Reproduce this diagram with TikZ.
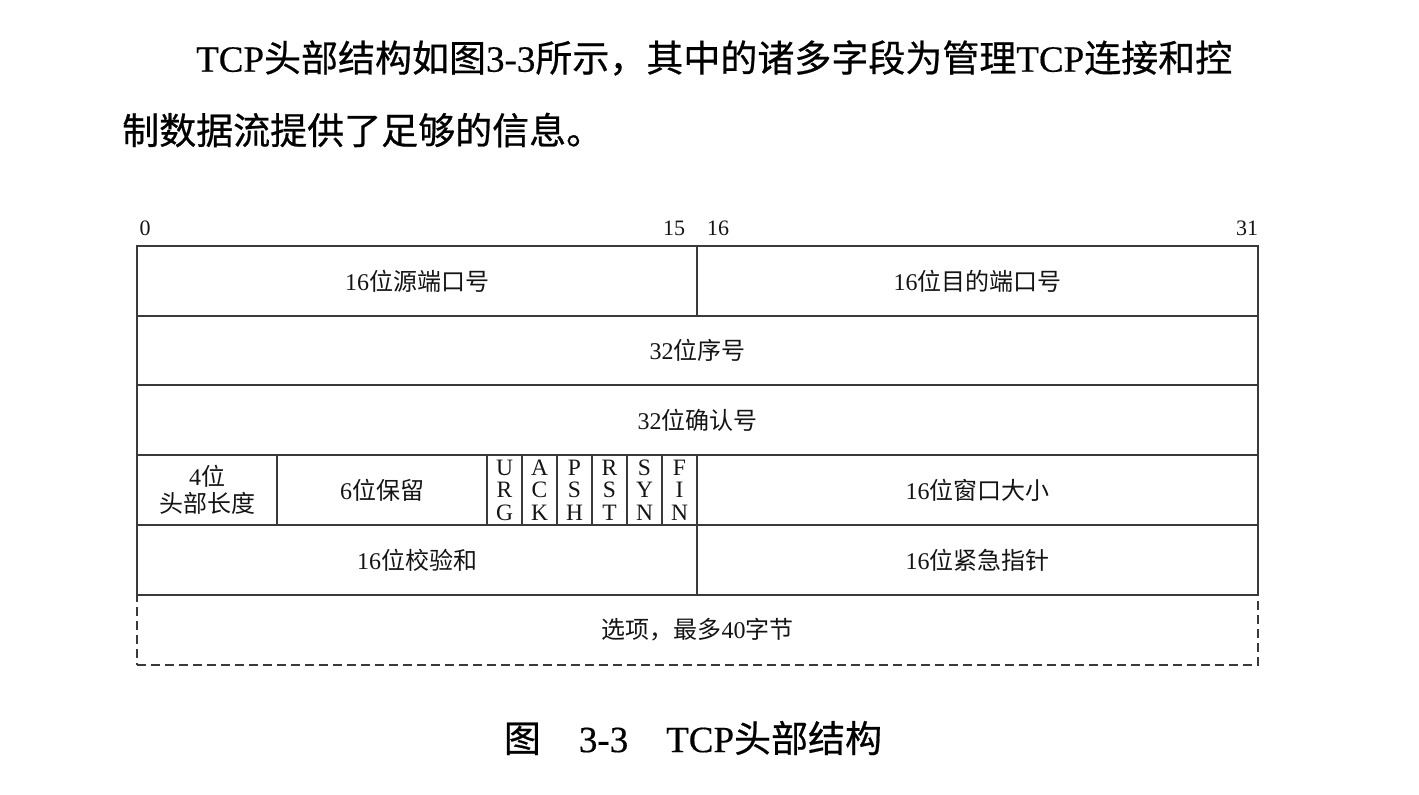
\documentclass[tikz,border=0pt]{standalone}
\usepackage{fontspec}
\setmainfont{Liberation Serif}
\newfontfamily\cjk{Noto Sans CJK SC}
\newfontfamily\cjkheavy{Noto Sans CJK SC}[FakeBold=0.6]
\newfontfamily\latinheavy{Liberation Serif}[FakeBold=0.4]
\usetikzlibrary{positioning}
\definecolor{tcpline}{HTML}{3A3A3A}
\definecolor{tcptext}{HTML}{141414}
\newcommand{\zh}[1]{{\cjk #1}}
\newcommand{\zhb}[1]{{\cjkheavy #1}}
\tikzset{
  every picture/.style={line join=miter},
  field/.style={rectangle, draw=tcpline, line width=1.4pt, inner sep=0pt,
    minimum height=70pt, text=tcptext, align=center,
    font=\fontsize{24}{27}\selectfont},
  flag/.style={field, minimum width=35pt, font=\fontsize{23.5}{22.5}\selectfont},
  optional/.style={field, dash pattern=on 9pt off 5pt},
  bitnum/.style={font=\fontsize{22}{22}\selectfont, text=tcptext, inner sep=0pt},
  para/.style={font=\fontsize{37}{40}\selectfont\latinheavy, text=black,
    inner sep=0pt, anchor=west},
  caption/.style={para, anchor=center},
}

\begin{document}
\begin{tikzpicture}[x=1pt, y=-1pt]
\useasboundingbox (0,0) rectangle (1419,795);

% ---- Running text above the figure
\node[para] (line1) at (196, 58)
  {TCP\zhb{头部结构如图}3-3\zhb{所示，其中的诸多字段为管理}TCP\zhb{连接和控}};
\node[para] (line2) at (122, 130) {\zhb{制数据流提供了足够的信息。}};

% ---- Bit positions
\node[bitnum] (b0)  at (145, 228)  {0};
\node[bitnum] (b15) at (674, 228)  {15};
\node[bitnum] (b16) at (718, 228)  {16};
\node[bitnum] (b31) at (1247, 228) {31};

% ---- Header fields, one row = 32 bits
\node[field, minimum width=560pt] (srcport) at (417, 281)   {16\zh{位源端口号}};
\node[field, minimum width=561pt] (dstport) at (977.5, 281) {16\zh{位目的端口号}};

\node[field, minimum width=1121pt] (seq) at (697.5, 350.5) {32\zh{位序号}};
\node[field, minimum width=1121pt] (ack) at (697.5, 420)   {32\zh{位确认号}};

\node[field, minimum width=140pt] (hdrlen) at (207, 490) {4\zh{位}\\\zh{头部长度}};
\node[field, minimum width=210pt] (resv)   at (382, 490) {6\zh{位保留}};
\foreach \a/\b/\c [count=\i from 0] in {U/R/G, A/C/K, P/S/H, R/S/T, S/Y/N, F/I/N}
  \node[flag] (flag\i) at (504.5+35*\i, 490) {\a\\\b\\\c};
\node[field, minimum width=561pt] (window) at (977.5, 490) {16\zh{位窗口大小}};

\node[field, minimum width=560pt] (checksum) at (417, 560)   {16\zh{位校验和}};
\node[field, minimum width=561pt] (urgent)   at (977.5, 560) {16\zh{位紧急指针}};

% options may be absent
\node[optional, minimum width=1121pt] (options) at (697.5, 630)
  {\zh{选项，最多}40\zh{字节}};

% ---- Caption
\node[caption] (cap) at (693, 738)
  {\zhb{图}\hspace{38pt}3-3\hspace{38pt}TCP\zhb{头部结构}};

\end{tikzpicture}
\end{document}
